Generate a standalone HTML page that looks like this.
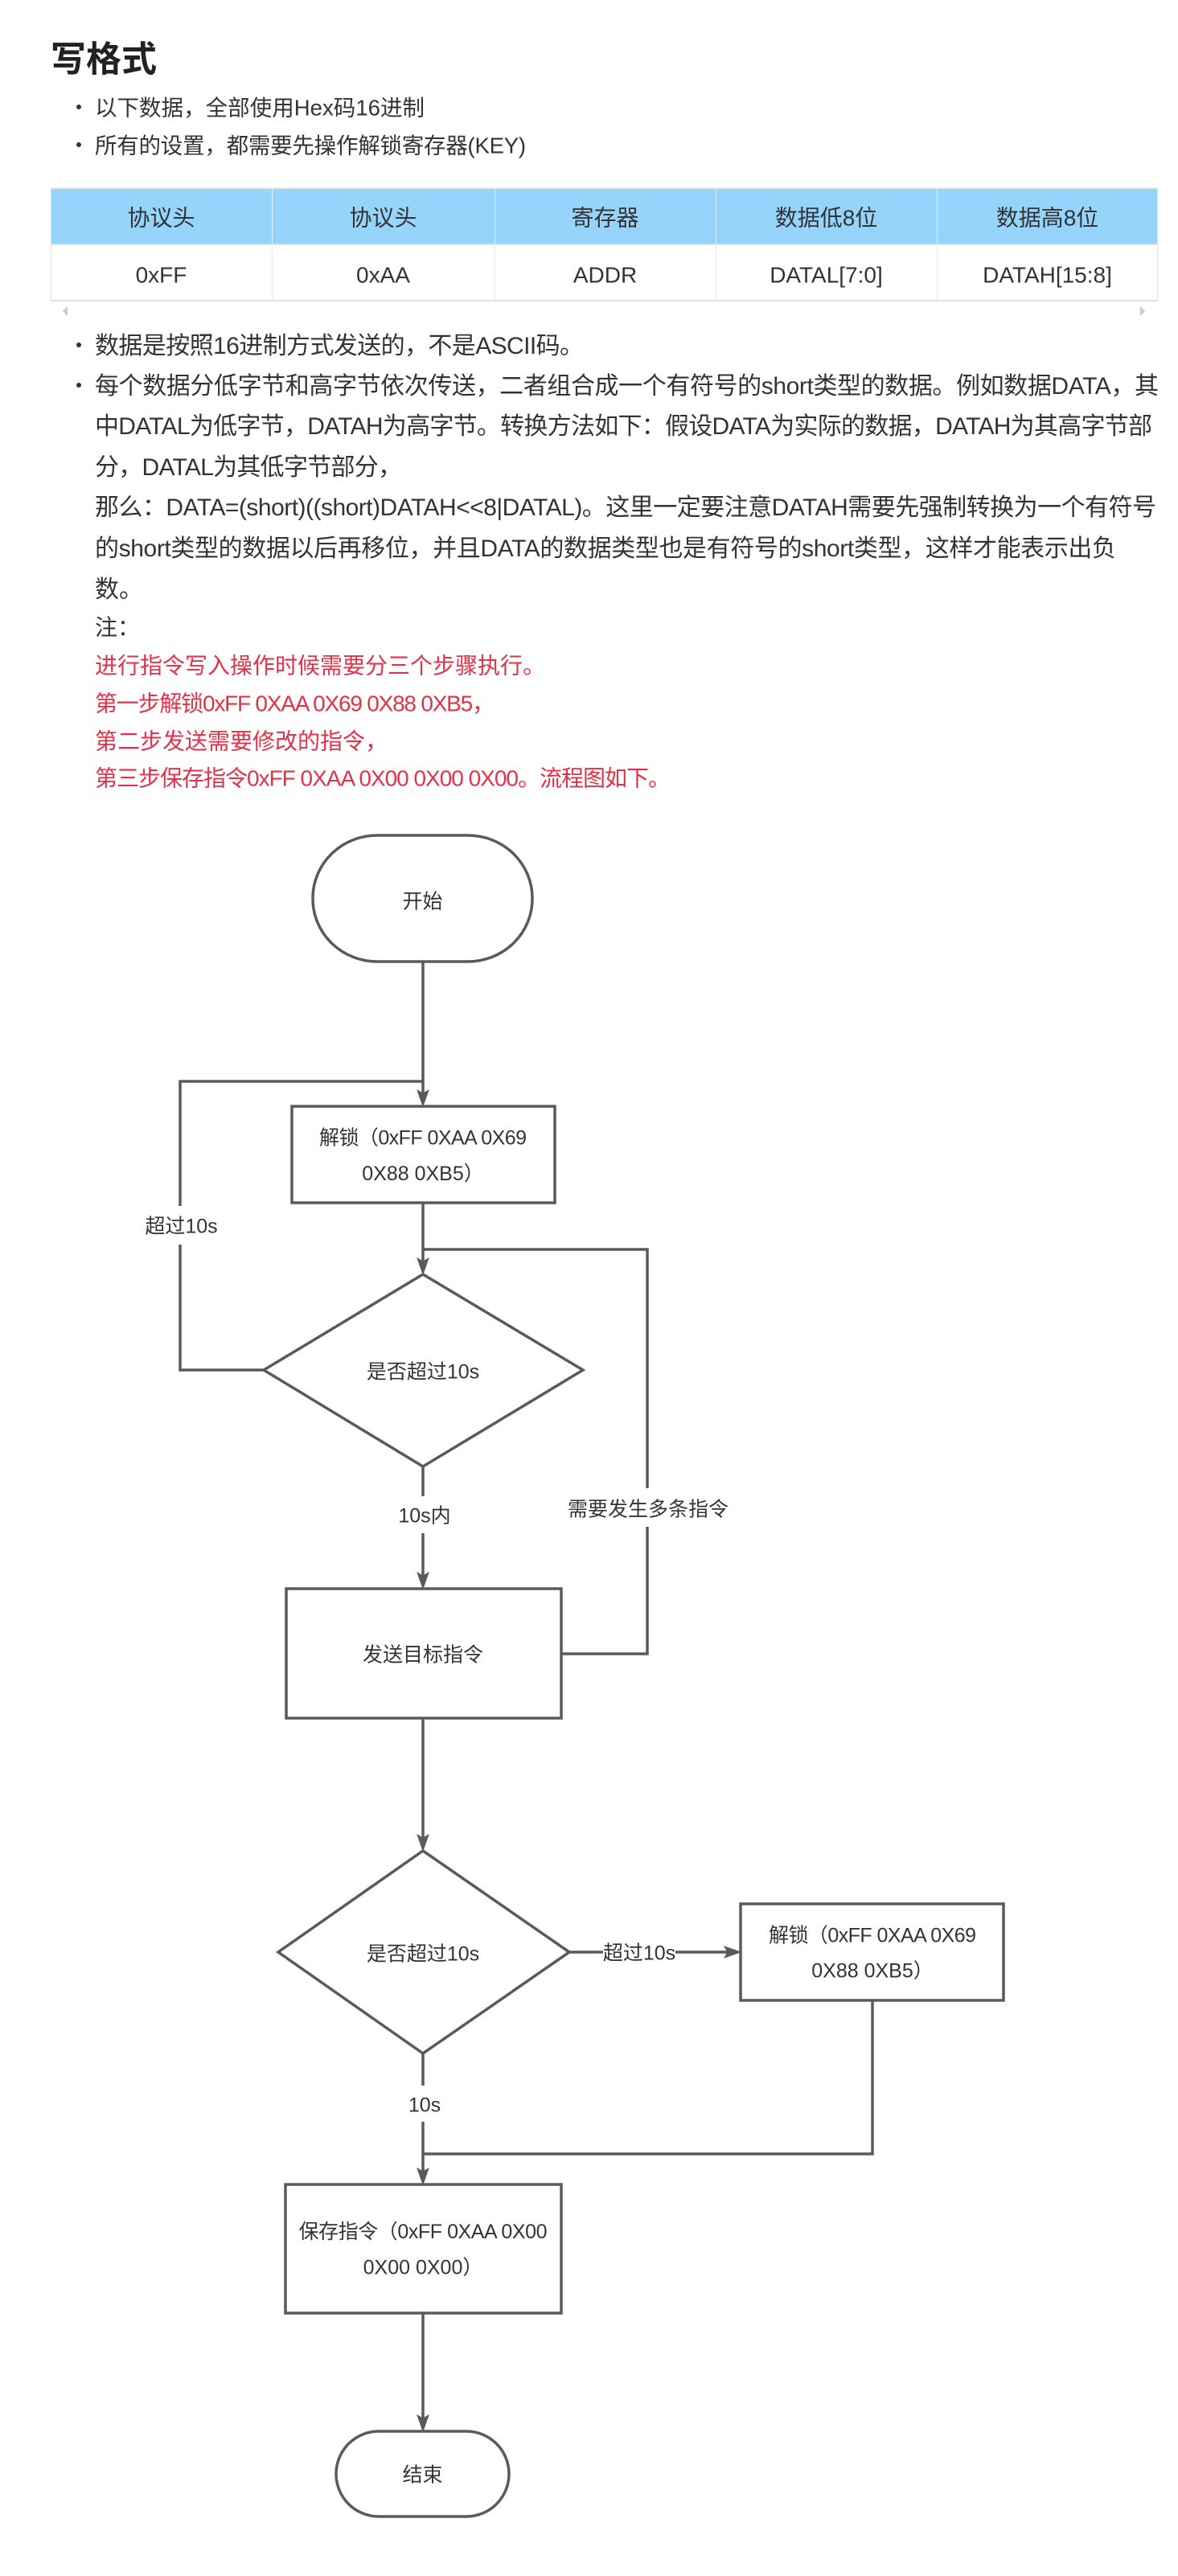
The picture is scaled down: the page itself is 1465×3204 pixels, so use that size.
<!DOCTYPE html>
<html>
<head>
<meta charset="utf-8">
<style>
  html,body{margin:0;padding:0;background:#fff;}
  body{width:1465px;height:3204px;overflow:hidden;position:relative;}
  svg{position:absolute;left:0;top:0;}
  .t{font-family:"Liberation Sans","Noto Sans CJK SC",sans-serif;fill:#333;}
  .red{fill:#e2324a;}
  .ln{fill:none;stroke:#5a5a5a;stroke-width:3.5;}
  .ar{fill:#5a5a5a;stroke:#5a5a5a;stroke-width:1;stroke-linejoin:miter;}
</style>
</head>
<body>
<svg width="1465" height="3204" viewBox="0 0 1465 3204" xmlns="http://www.w3.org/2000/svg">
  <!-- Title -->
  <text class="t" x="63" y="88.5" font-size="44" font-weight="bold" style="fill:#222">写格式</text>

  <!-- top bullets -->
  <circle cx="98" cy="133" r="3" fill="#333"/>
  <text class="t" x="118" y="143.5" font-size="27.5" textLength="410" lengthAdjust="spacing">以下数据，全部使用Hex码16进制</text>
  <circle cx="98" cy="180" r="3" fill="#333"/>
  <text class="t" x="118" y="190.5" font-size="27.5" textLength="536" lengthAdjust="spacing">所有的设置，都需要先操作解锁寄存器(KEY)</text>

  <!-- Table -->
  <rect x="63.5" y="235" width="1376.5" height="69" fill="#96d4fc"/>
  <rect x="63.5" y="304" width="1376.5" height="70" fill="#fff"/>
  <line x1="63" y1="234.5" x2="1440" y2="234.5" stroke="#dcdcdc" stroke-width="1.5"/>
  <line x1="63" y1="304" x2="1440" y2="304" stroke="#e0e0e0" stroke-width="1.5"/>
  <line x1="63" y1="374" x2="1440" y2="374" stroke="#e0e0e0" stroke-width="2"/>
  <line x1="63.5" y1="234" x2="63.5" y2="375" stroke="#e0e0e0" stroke-width="1"/>
  <line x1="1439.5" y1="234" x2="1439.5" y2="375" stroke="#e0e0e0" stroke-width="1"/>
  <g stroke-width="1">
    <line x1="338.5" y1="235" x2="338.5" y2="304" stroke="#dff1fd"/>
    <line x1="615.5" y1="235" x2="615.5" y2="304" stroke="#dff1fd"/>
    <line x1="890.5" y1="235" x2="890.5" y2="304" stroke="#dff1fd"/>
    <line x1="1165.5" y1="235" x2="1165.5" y2="304" stroke="#dff1fd"/>
    <line x1="338.5" y1="304" x2="338.5" y2="374" stroke="#e8e8e8"/>
    <line x1="615.5" y1="304" x2="615.5" y2="374" stroke="#e8e8e8"/>
    <line x1="890.5" y1="304" x2="890.5" y2="374" stroke="#e8e8e8"/>
    <line x1="1165.5" y1="304" x2="1165.5" y2="374" stroke="#e8e8e8"/>
  </g>
  <g class="t" font-size="28" text-anchor="middle">
    <text x="200.5" y="280.5">协议头</text>
    <text x="476.5" y="280.5">协议头</text>
    <text x="752.5" y="280.5">寄存器</text>
    <text x="1027.5" y="280.5">数据低8位</text>
    <text x="1302.5" y="280.5">数据高8位</text>
    <text x="200.5" y="351.5">0xFF</text>
    <text x="476.5" y="351.5">0xAA</text>
    <text x="752.5" y="351.5">ADDR</text>
    <text x="1027.5" y="351.5">DATAL[7:0]</text>
    <text x="1302.5" y="351.5">DATAH[15:8]</text>
  </g>
  <!-- scroll arrows -->
  <polygon points="84,381 84,393 78,387" fill="#c8c8c8"/>
  <polygon points="1418,381 1418,393 1424,387" fill="#c8c8c8"/>

  <!-- lower bullets -->
  <circle cx="98" cy="429" r="3" fill="#333"/>
  <text class="t" x="118" y="440" font-size="30" textLength="608" lengthAdjust="spacing">数据是按照16进制方式发送的，不是ASCII码。</text>
  <circle cx="98" cy="479" r="3" fill="#333"/>
  <text class="t" x="118" y="490" font-size="30" textLength="1323" lengthAdjust="spacing">每个数据分低字节和高字节依次传送，二者组合成一个有符号的short类型的数据。例如数据DATA，其</text>
  <text class="t" x="118" y="540" font-size="30" textLength="1315" lengthAdjust="spacing">中DATAL为低字节，DATAH为高字节。转换方法如下：假设DATA为实际的数据，DATAH为其高字节部</text>
  <text class="t" x="118" y="591" font-size="30" textLength="382" lengthAdjust="spacing">分，DATAL为其低字节部分，</text>
  <text class="t" x="118" y="641" font-size="30" textLength="1320" lengthAdjust="spacing">那么：DATA=(short)((short)DATAH&lt;&lt;8|DATAL)。这里一定要注意DATAH需要先强制转换为一个有符号</text>
  <text class="t" x="118" y="692" font-size="30" textLength="1270" lengthAdjust="spacing">的short类型的数据以后再移位，并且DATA的数据类型也是有符号的short类型，这样才能表示出负</text>
  <text class="t" x="118" y="743" font-size="30">数。</text>
  <text class="t" x="118" y="790" font-size="28">注：</text>
  <text class="t red" x="118" y="837.5" font-size="28">进行指令写入操作时候需要分三个步骤执行。</text>
  <text class="t red" x="118" y="884.5" font-size="28" textLength="497" lengthAdjust="spacing">第一步解锁0xFF 0XAA 0X69 0X88 0XB5，</text>
  <text class="t red" x="118" y="931.5" font-size="28">第二步发送需要修改的指令，</text>
  <text class="t red" x="118" y="977.5" font-size="28" textLength="716" lengthAdjust="spacing">第三步保存指令0xFF 0XAA 0X00 0X00 0X00。流程图如下。</text>

  <!-- ===== Flowchart ===== -->
  <!-- shapes -->
  <rect class="ln" x="389" y="1039" width="273" height="157" rx="80" ry="78"/>
  <rect class="ln" x="363" y="1376" width="327" height="120"/>
  <polygon class="ln" points="526,1585 725,1704 526,1824 328,1704"/>
  <rect class="ln" x="356" y="1976" width="342" height="161"/>
  <polygon class="ln" points="526,2302 708,2428 526,2554 346,2428"/>
  <rect class="ln" x="921" y="2368" width="327" height="120"/>
  <rect class="ln" x="355" y="2717" width="343" height="160"/>
  <rect class="ln" x="418" y="3024" width="215" height="106" rx="53" ry="53"/>

  <!-- connectors -->
  <path class="ln" d="M526,1196 V1362"/>
  <path class="ln" d="M329,1704 H224 V1548 M224,1500 V1345 H526"/>
  <path class="ln" d="M526,1496 V1571"/>
  <path class="ln" d="M698,2057 H805 V1899 M805,1851 V1554 H526"/>
  <path class="ln" d="M526,1824 V1861 M526,1907 V1962"/>
  <path class="ln" d="M526,2138 V2288"/>
  <path class="ln" d="M708,2428 H750 M840,2428 H907"/>
  <path class="ln" d="M1085,2488 V2679 H526"/>
  <path class="ln" d="M526,2554 V2594 M526,2639 V2703"/>
  <path class="ln" d="M526,2877 V3010"/>

  <!-- arrowheads -->
  <path class="ar" d="M526,1376 L519,1356 L526,1360 L533,1356 Z"/>
  <path class="ar" d="M526,1585 L519,1565 L526,1569 L533,1565 Z"/>
  <path class="ar" d="M526,1976 L519,1956 L526,1960 L533,1956 Z"/>
  <path class="ar" d="M526,2302 L519,2282 L526,2286 L533,2282 Z"/>
  <path class="ar" d="M921,2428 L901,2421 L905,2428 L901,2435 Z"/>
  <path class="ar" d="M526,2717 L519,2697 L526,2701 L533,2697 Z"/>
  <path class="ar" d="M526,3024 L519,3004 L526,3008 L533,3004 Z"/>

  <!-- labels -->
  <g class="t" font-size="25" text-anchor="middle">
    <text x="525.5" y="1129.5">开始</text>
    <text x="526" y="1423.5" textLength="258" lengthAdjust="spacing">解锁（0xFF 0XAA 0X69</text>
    <text x="526" y="1468">0X88 0XB5）</text>
    <text x="225.5" y="1533.5">超过10s</text>
    <text x="526" y="1714.5">是否超过10s</text>
    <text x="528" y="1893.5">10s内</text>
    <text x="806" y="1885.5">需要发生多条指令</text>
    <text x="526" y="2066.5">发送目标指令</text>
    <text x="526" y="2438.5">是否超过10s</text>
    <text x="795" y="2437.5">超过10s</text>
    <text x="1085" y="2415.5" textLength="258" lengthAdjust="spacing">解锁（0xFF 0XAA 0X69</text>
    <text x="1085" y="2459.5">0X88 0XB5）</text>
    <text x="528" y="2626.5">10s</text>
    <text x="526" y="2784" textLength="309" lengthAdjust="spacing">保存指令（0xFF 0XAA 0X00</text>
    <text x="526" y="2828.5">0X00 0X00）</text>
    <text x="525.5" y="3086.5">结束</text>
  </g>
</svg>
</body>
</html>
